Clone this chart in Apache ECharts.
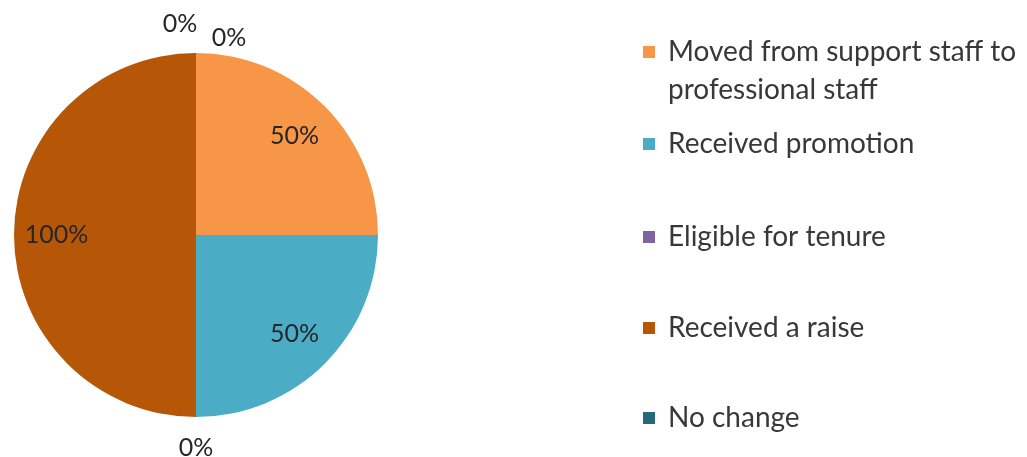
<!DOCTYPE html>
<html>
<head>
<meta charset="utf-8">
<script src="https://cdn.jsdelivr.net/npm/echarts@6/dist/echarts.min.js"></script>
<style>
  html, body { margin: 0; padding: 0; background: #fff; }
  #chart { width: 1027px; height: 457px; }
</style>
</head>
<body>
<div id="chart"></div>
<script>
// categories in drawing order (clockwise from 12 o'clock); the first one is a blank row
const categories = ['', 'Moved from support staff to professional staff', 'Received promotion', 'Eligible for tenure', 'Received a raise', 'No change'];
const values = [0, 50, 50, 0, 100, 0];
const colors = ['#7f7f7f', '#F79646', '#4BACC6', '#8064A2', '#B65708', '#25687A'];
const legendNames = categories.slice(1);

const chartDom = document.getElementById('chart');
const myChart = echarts.init(chartDom);

const cx = 196, cy = 235, R = 182;
const font = 'Lato';

// nudges for the zero labels that share the top position
const zeroOffsets = { '': [33, 16], 'No change': [-16, 2] };

const pieData = categories.map((name, i) => ({
  name: name,
  value: values[i],
  itemStyle: { color: colors[i] }
}));

const labelData = categories.map((name, i) => ({
  name: name,
  value: values[i],
  label: { offset: zeroOffsets[name] || [0, 0] }
}));

// one legend per entry so each can sit at its own row
const legendRows = [52, 144, 237, 328, 418];
const lineH = 38;
const legends = legendNames.map((name, i) => {
  const wrapped = i === 0;
  return {
    data: [name],
    orient: 'vertical',
    left: 643,
    // the wrapped entry gets a blank first line so its first text line stays level with the icon
    top: wrapped ? legendRows[i] - lineH * 1.5 : legendRows[i] - lineH / 2,
    itemWidth: 12,
    itemHeight: 12,
    itemGap: 0,
    padding: 0,
    icon: 'rect',
    selectedMode: false,
    formatter: n => wrapped ? ' \nMoved from support staff to\nprofessional staff' : n,
    textStyle: {
      fontFamily: font,
      fontSize: 28,
      color: '#383838',
      lineHeight: lineH,
      padding: [0, 0, 0, 8]
    }
  };
});

const option = {
  animation: false,
  color: colors,
  legend: legends,
  series: [
    {
      type: 'pie',
      center: [cx, cy],
      radius: [0, R],
      startAngle: 90,
      clockwise: true,
      silent: true,
      label: { show: false },
      labelLine: { show: false },
      itemStyle: { borderWidth: 0 },
      data: pieData
    },
    {
      // transparent ring that carries the in-slice labels
      type: 'pie',
      center: [cx, cy],
      radius: [R * 0.5, R],
      startAngle: 90,
      silent: true,
      legendHoverLink: false,
      itemStyle: { color: 'transparent' },
      label: {
        show: true,
        position: 'inside',
        fontFamily: font,
        fontSize: 25,
        color: '#262626',
        formatter: p => (p.value > 0 ? p.value + '%' : '')
      },
      labelLine: { show: false },
      data: categories.map((name, i) => ({ name: name, value: values[i] }))
    },
    {
      // transparent outer ring that carries the zero labels
      type: 'pie',
      center: [cx, cy],
      radius: [200, 220],
      startAngle: 90,
      silent: true,
      legendHoverLink: false,
      itemStyle: { color: 'transparent' },
      label: {
        show: true,
        position: 'inside',
        fontFamily: font,
        fontSize: 25,
        color: '#262626',
        formatter: p => (p.value === 0 ? p.value + '%' : '')
      },
      labelLine: { show: false },
      data: labelData
    }
  ]
};

option && myChart.setOption(option);
</script>
</body>
</html>
